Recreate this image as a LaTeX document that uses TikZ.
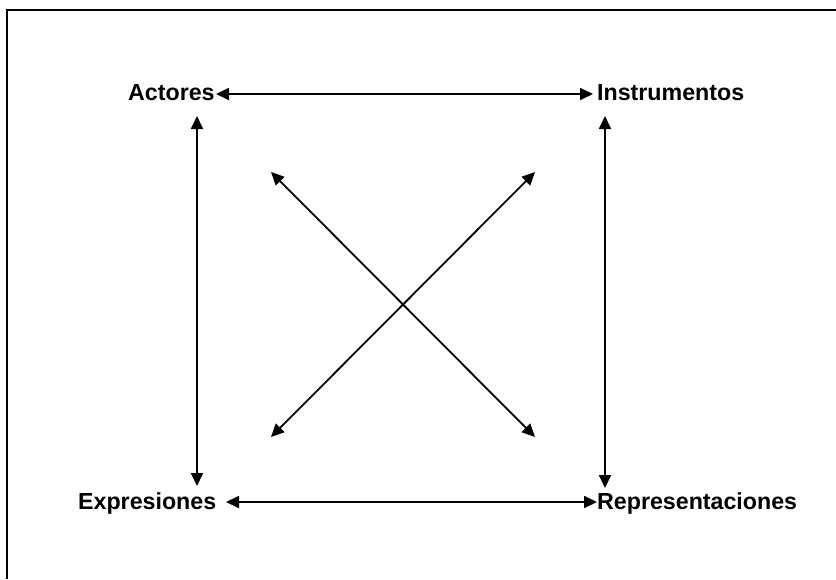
\documentclass[tikz,border=0pt]{standalone}
\usepackage{fontspec}
\setmainfont{Liberation Sans}
\usetikzlibrary{arrows.meta}
\begin{document}
\begin{tikzpicture}[x=1pt,y=-1pt,
  lbl/.style={font=\bfseries\fontsize{23.2}{27}\selectfont, inner sep=0pt, anchor=base west},
  biarrow/.style={line width=1.8pt, {Triangle[length=13pt,width=12pt]}-{Triangle[length=13pt,width=12pt]}},
  frame/.style={line width=2.2pt}]
\useasboundingbox (0,0) rectangle (836,579);
% frame (top and left only)
\coordinate (ftr) at (836,10);
\coordinate (ftl) at (7,10);
\coordinate (fbl) at (7,579);
\draw[frame] (ftr) -- (ftl) -- (fbl);
% labels
\node[lbl] (act) at (128,100) {Actores};
\node[lbl] (ins) at (597,100.5) {Instrumentos};
\node[lbl] (exp) at (78,509) {Expresiones};
\node[lbl] (rep) at (597,509) {Representaciones};
% arrow endpoints
\coordinate (t1) at (216,94);
\coordinate (t2) at (593,94);
\coordinate (b1) at (226,502);
\coordinate (b2) at (597,502);
\coordinate (l1) at (197,116);
\coordinate (l2) at (197,486);
\coordinate (r1) at (605,116);
\coordinate (r2) at (605,488);
\coordinate (d1) at (271,172);
\coordinate (d2) at (535,437);
\coordinate (d3) at (535,172);
\coordinate (d4) at (271,437);
\draw[biarrow] (t1) -- (t2);
\draw[biarrow] (b1) -- (b2);
\draw[biarrow] (l1) -- (l2);
\draw[biarrow] (r1) -- (r2);
\draw[biarrow] (d1) -- (d2);
\draw[biarrow] (d3) -- (d4);
\end{tikzpicture}
\end{document}
